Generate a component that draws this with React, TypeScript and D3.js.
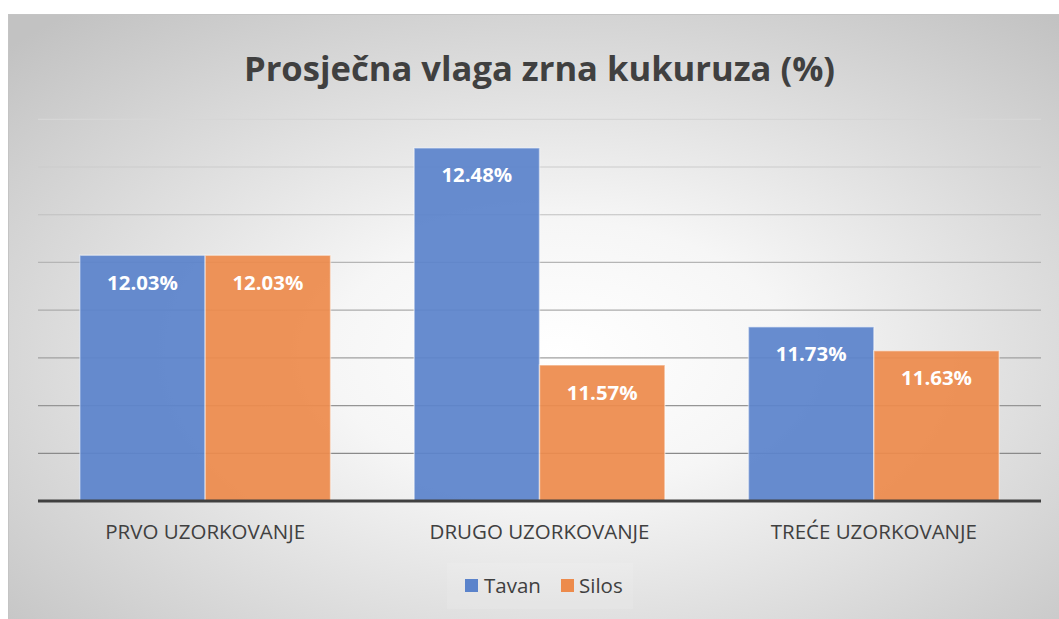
import React, { useEffect, useRef } from "react";
import * as d3 from "d3";

const title = "Prosječna vlaga zrna kukuruza (%)";
const categories = ["PRVO UZORKOVANJE", "DRUGO UZORKOVANJE", "TREĆE UZORKOVANJE"];
const seriesNames = ["Tavan", "Silos"];
const tavanValues = [12.03, 12.48, 11.73];
const silosValues = [12.03, 11.57, 11.63];
const gridTicks = [11.2, 11.4, 11.6, 11.8, 12.0, 12.2, 12.4, 12.6];
const colors = ["#5b83cb", "#ed8b4c"];

const W = 1059;
const H = 619;
const FONT = "'Open Sans', 'DejaVu Sans', sans-serif";

export default function App() {
  const ref = useRef<SVGSVGElement | null>(null);

  useEffect(() => {
    const svg = d3.select(ref.current);
    svg.selectAll("*").remove();

    const defs = svg.append("defs");
    const rg = defs
      .append("radialGradient")
      .attr("id", "bg")
      .attr("cx", "52%")
      .attr("cy", "55%")
      .attr("r", "72%");
    rg.append("stop").attr("offset", "0%").attr("stop-color", "#ffffff");
    rg.append("stop").attr("offset", "30%").attr("stop-color", "#f6f6f6");
    rg.append("stop").attr("offset", "100%").attr("stop-color", "#c2c2c2");

    // chart area
    svg
      .append("rect")
      .attr("x", 8.5)
      .attr("y", 14.5)
      .attr("width", W)
      .attr("height", H)
      .attr("fill", "url(#bg)")
      .attr("stroke", "#c4c4c4")
      .attr("stroke-width", 1);

    const left = 38;
    const right = 1041;
    const yBase = 501;
    const yTop = 119.3;

    const x0 = d3.scaleBand<string>().domain(categories).range([left, right]).paddingInner(0).paddingOuter(0);
    const y = d3.scaleLinear().domain([11.0, 12.6]).range([yBase, yTop]);
    const bw = x0.bandwidth();
    const groupPad = bw * 0.125;
    const x1 = d3
      .scaleBand<string>()
      .domain(seriesNames)
      .range([groupPad, bw - groupPad])
      .padding(0);

    // gridlines
    const gcol = d3.scaleLinear<string>().domain([12.6, 11.2]).range(["#d6d6d6", "#8a8a8a"]);
    svg
      .append("g")
      .selectAll("line")
      .data(gridTicks)
      .join("line")
      .attr("x1", left)
      .attr("x2", right)
      .attr("y1", (d) => y(d))
      .attr("y2", (d) => y(d))
      .attr("stroke", (d) => gcol(d))
      .attr("stroke-width", 1.2);

    // title
    svg
      .append("text")
      .attr("x", (left + right) / 2)
      .attr("y", 81)
      .attr("text-anchor", "middle")
      .attr("font-family", FONT)
      .attr("font-weight", 700)
      .attr("font-size", 34.6)
      .attr("fill", "#404040")
      .text(title);

    const series = [tavanValues, silosValues];
    const rows = categories.flatMap((c, i) =>
      seriesNames.map((s, j) => ({ cat: c, ser: s, v: series[j][i], j }))
    );

    const gb = svg.append("g");
    gb.selectAll("rect")
      .data(rows)
      .join("rect")
      .attr("x", (d) => (x0(d.cat) as number) + (x1(d.ser) as number))
      .attr("y", (d) => y(d.v))
      .attr("width", x1.bandwidth())
      .attr("height", (d) => yBase - y(d.v))
      .attr("fill", (d) => colors[d.j])
      .attr("fill-opacity", 0.93)
      .attr("stroke", "#ffffff")
      .attr("stroke-opacity", 0.45)
      .attr("stroke-width", 1.5);

    gb.selectAll("text")
      .data(rows)
      .join("text")
      .attr("x", (d) => (x0(d.cat) as number) + (x1(d.ser) as number) + x1.bandwidth() / 2)
      .attr("y", (d) => y(d.v) + 34.5)
      .attr("text-anchor", "middle")
      .attr("font-family", FONT)
      .attr("font-weight", 700)
      .attr("font-size", 20.4)
      .attr("fill", "#ffffff")
      .text((d) => d.v.toFixed(2) + "%");

    // baseline axis
    svg
      .append("line")
      .attr("x1", left)
      .attr("x2", right)
      .attr("y1", yBase)
      .attr("y2", yBase)
      .attr("stroke", "#404040")
      .attr("stroke-width", 3.2);

    // category labels
    svg
      .append("g")
      .selectAll("text")
      .data(categories)
      .join("text")
      .attr("x", (d) => (x0(d) as number) + bw / 2)
      .attr("y", 539)
      .attr("text-anchor", "middle")
      .attr("font-family", FONT)
      .attr("font-size", 20.5)
      .attr("fill", "#404040")
      .text((d) => d);

    // legend
    const lg = svg.append("g");
    lg.append("rect")
      .attr("x", 447)
      .attr("y", 563)
      .attr("width", 186)
      .attr("height", 46)
      .attr("fill", "#ffffff")
      .attr("fill-opacity", 0.1);
    const legendItems = [
      { name: seriesNames[0], sx: 465, tx: 484 },
      { name: seriesNames[1], sx: 561, tx: 579 },
    ];
    legendItems.forEach((it, i) => {
      lg.append("rect")
        .attr("x", it.sx)
        .attr("y", 579)
        .attr("width", 13)
        .attr("height", 13)
        .attr("fill", colors[i]);
      lg.append("text")
        .attr("x", it.tx)
        .attr("y", 593)
        .attr("font-family", FONT)
        .attr("font-size", 20.5)
        .attr("fill", "#404040")
        .text(it.name);
    });
  }, []);

  return (
    <svg
      ref={ref}
      width={W}
      height={H}
      style={{ position: "absolute", left: 0, top: 0, background: "#ffffff" }}
    />
  );
}
